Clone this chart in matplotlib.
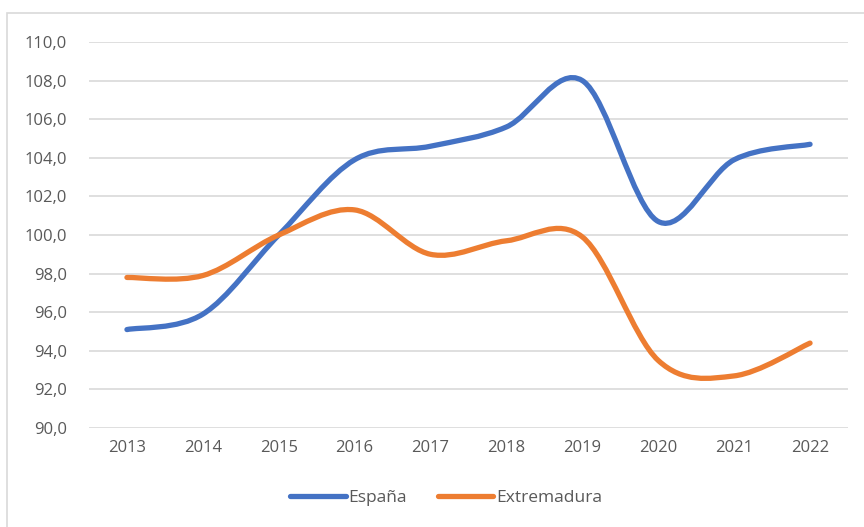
import numpy as np
from matplotlib import pyplot as plt
from matplotlib.path import Path
from matplotlib.patches import PathPatch, Rectangle
from matplotlib.lines import Line2D

plt.rcParams['font.family'] = ['Open Sans', 'DejaVu Sans']

years = ['2013', '2014', '2015', '2016', '2017', '2018', '2019', '2020', '2021', '2022']
espana = [95.1, 95.9, 100.0, 103.9, 104.6, 105.6, 108.0, 100.7, 103.9, 104.7]
extremadura = [97.8, 97.9, 100.0, 101.3, 99.0, 99.7, 99.9, 93.5, 92.7, 94.4]

blue = '#4472C4'
orange = '#ED7D31'
text_col = '#595959'


def smooth_path(xs, ys):
    # excel style smoothed line: bezier segments with catmull-rom control points
    pts = np.column_stack([xs, ys]).astype(float)
    n = len(pts)
    verts = [pts[0]]
    codes = [Path.MOVETO]
    for i in range(n - 1):
        p0 = pts[i - 1] if i > 0 else pts[i]
        p1 = pts[i]
        p2 = pts[i + 1]
        p3 = pts[i + 2] if i + 2 < n else pts[i + 1]
        c1 = p1 + (p2 - p0) / 6.0
        c2 = p2 - (p3 - p1) / 6.0
        verts += [c1, c2, p2]
        codes += [Path.CURVE4] * 3
    return Path(verts, codes)


fig = plt.figure(figsize=(8.64, 5.27), dpi=100)
fig.patches.append(Rectangle((7 / 864, -0.1), 1.2, (527 - 13) / 527 + 0.1,
                             transform=fig.transFigure, fill=False,
                             edgecolor='#D9D9D9', linewidth=1.2))
ax = fig.add_axes([89 / 864, 1 - 428 / 527, (848 - 89) / 864, (428 - 42) / 527])

x = np.arange(len(years))
for vals, col in [(espana, blue), (extremadura, orange)]:
    ax.add_patch(PathPatch(smooth_path(x, vals), fill=False, edgecolor=col,
                           linewidth=3.8, capstyle='round', joinstyle='round', zorder=3))

ax.set_xlim(-0.5, len(years) - 0.5)
ax.set_ylim(90, 110)
ax.set_yticks(np.arange(90, 110.1, 2))
ax.set_yticklabels([f'{v:.1f}'.replace('.', ',') for v in np.arange(90, 110.1, 2)])
ax.set_xticks(x)
ax.set_xticklabels(years)
ax.grid(axis='y', color='#D9D9D9', linewidth=1.2)
ax.set_axisbelow(True)
for s in ax.spines.values():
    s.set_visible(False)
ax.tick_params(length=0, labelsize=12, colors=text_col, pad=9)
ax.tick_params(axis='y', pad=16)

handles = [Line2D([], [], color=blue, linewidth=3.8, solid_capstyle='round'),
           Line2D([], [], color=orange, linewidth=3.8, solid_capstyle='round')]
fig.legend(handles, ['España', 'Extremadura'], loc='center', bbox_to_anchor=(446 / 864, 1 - 498 / 527),
           ncol=2, frameon=False, fontsize=12.5, labelcolor=text_col, handlelength=3.2,
           handletextpad=0.15, columnspacing=1.8)

fig.savefig('out.png', dpi=100)
